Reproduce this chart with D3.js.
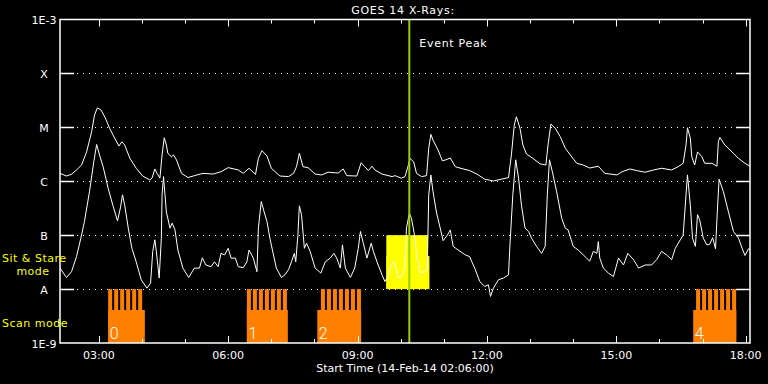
<!DOCTYPE html>
<html>
<head>
<meta charset="utf-8">
<script src="https://d3js.org/d3.v7.min.js"></script>
<style>
body { margin: 0; background: #000; }
text { font-family: "DejaVu Sans", sans-serif; fill: #fff; font-size: 11px; }
text.yel { fill: #ffff00; letter-spacing: 0.5px; }
text.ttl { letter-spacing: 0.7px; }
text.num { font-family: Roboto, "DejaVu Sans", sans-serif; font-weight: 300; font-size: 16px; }
</style>
</head>
<body>
<div id="chart"></div>
<script>
// GOES long channel (1-8 A), rows of 10
var longTimes = [
  "02:06","02:15","02:22","02:29","02:36","02:43","02:50","02:54","02:58","03:03",
  "03:09","03:15","03:22","03:28","03:32","03:36","03:43","03:52","04:01","04:11",
  "04:14","04:18","04:21","04:25","04:28","04:31","04:34","04:36","04:41","04:44",
  "04:48","04:55","05:04","05:13","05:25","05:39","05:50","06:00","06:14","06:21",
  "06:29","06:38","06:42","06:47","06:54","07:00","07:12","07:24","07:31","07:35",
  "07:39","07:44","07:51","08:01","08:10","08:19","08:33","08:40","08:45","08:59",
  "09:05","09:10","09:15","09:20","09:24","09:34","09:48","09:52","10:01","10:06",
  "10:10","10:13","10:18","10:22","10:29","10:36","10:39","10:42","10:45","10:52",
  "10:58","11:03","11:09","11:16","11:27","11:36","11:46","11:57","12:09","12:21",
  "12:30","12:34","12:38","12:41","12:46","12:50","12:55","13:04","13:14","13:22",
  "13:25","13:29","13:35","13:42","13:49","13:56","14:05","14:14","14:23","14:35",
  "14:44","15:01","15:08","15:19","15:28","15:40","15:52","16:03","16:17","16:26",
  "16:33","16:37","16:39","16:43","16:45","16:49","16:53","16:59","17:03","17:13",
  "17:20","17:22","17:24","17:31","17:41","17:50","17:59","18:06"];
var longFlux = [
  1.4e-6,1.25e-6,1.35e-6,1.62e-6,2.0e-6,3.5e-6,8.3e-6,1.69e-5,2.3e-5,2.1e-5,
  1.5e-5,9.6e-6,6.3e-6,4.5e-6,5.4e-6,4.7e-6,2.7e-6,1.74e-6,1.25e-6,1.06e-6,
  1.14e-6,1.69e-6,1.4e-6,1.14e-6,3.07e-6,6.4e-6,4.7e-6,3.3e-6,2.85e-6,3.07e-6,
  2.5e-6,1.4e-6,1.17e-6,1.27e-6,1.4e-6,1.36e-6,1.5e-6,1.79e-6,1.62e-6,1.4e-6,
  1.74e-6,1.34e-6,2.65e-6,3.7e-6,2.94e-6,1.74e-6,1.25e-6,1.22e-6,1.4e-6,1.86e-6,
  3.3e-6,1.86e-6,1.79e-6,1.36e-6,1.31e-6,1.47e-6,1.42e-6,1.69e-6,1.27e-6,1.25e-6,
  2.2e-6,1.86e-6,1.58e-6,1.9e-6,1.62e-6,1.36e-6,1.22e-6,1.27e-6,1.14e-6,1.22e-6,
  1.86e-6,2.65e-6,2.3e-6,1.4e-6,1.22e-6,1.27e-6,4.1e-6,7.4e-6,5.8e-6,3.8e-6,
  2.4e-6,2.5e-6,2.7e-6,1.86e-6,1.69e-6,1.58e-6,1.36e-6,1.09e-6,1.01e-6,1.1e-6,
  1.17e-6,3.07e-6,1.1e-5,1.57e-5,9.6e-6,4.7e-6,3.2e-6,2.65e-6,2.1e-6,2.0e-6,
  4.7e-6,1.15e-5,9.6e-6,6.7e-6,4.1e-6,3.07e-6,2.15e-6,2.0e-6,1.76e-6,1.9e-6,
  1.4e-6,1.31e-6,1.5e-6,1.69e-6,1.58e-6,1.47e-6,1.62e-6,1.74e-6,1.62e-6,1.86e-6,
  2.15e-6,4.7e-6,9.8e-6,6.3e-6,2.85e-6,2.0e-6,3.5e-6,2.85e-6,2.15e-6,2.15e-6,
  1.9e-6,5.4e-6,6.5e-6,4.7e-6,3.5e-6,2.65e-6,2.15e-6,1.9e-6];

// GOES short channel (0.5-4 A)
var shortTimes = [
  "02:06","02:15","02:22","02:29","02:35","02:40","02:47","02:53","02:57","03:01",
  "03:06","03:13","03:20","03:26","03:30","03:33","03:36","03:41","03:46","03:52",
  "03:59","04:07","04:12","04:15","04:18","04:20","04:24","04:27","04:28","04:30",
  "04:34","04:39","04:42","04:46","04:50","04:57","05:05","05:13","05:20","05:24",
  "05:29","05:36","05:41","05:46","05:50","05:55","06:00","06:04","06:10","06:14",
  "06:21","06:26","06:29","06:35","06:40","06:42","06:46","06:50","06:54","06:58",
  "07:03","07:07","07:14","07:19","07:24","07:28","07:32","07:34","07:37","07:39",
  "07:42","07:46","07:49","07:54","08:01","08:09","08:15","08:22","08:27","08:31",
  "08:36","08:39","08:43","08:50","08:56","09:01","09:04","09:08","09:13","09:19",
  "09:22","09:27","09:34","09:38","09:43","09:48","09:51","09:57","10:01","10:06",
  "10:08","10:12","10:15","10:20","10:22","10:27","10:34","10:37","10:39","10:42",
  "10:45","10:50","10:55","10:59","11:05","11:09","11:13","11:20","11:30","11:36",
  "11:39","11:43","11:50","11:57","12:02","12:05","12:09","12:16","12:23","12:30",
  "12:32","12:36","12:40","12:44","12:48","12:53","12:58","13:02","13:09","13:16",
  "13:21","13:24","13:27","13:31","13:37","13:44","13:49","13:53","14:00","14:07",
  "14:14","14:23","14:28","14:33","14:35","14:37","14:42","14:49","14:56","15:03",
  "15:10","15:16","15:24","15:31","15:40","15:49","15:56","16:03","16:10","16:17",
  "16:22","16:29","16:33","16:37","16:39","16:43","16:46","16:50","16:53","16:56",
  "17:01","17:06","17:10","17:14","17:18","17:21","17:23","17:29","17:36","17:43",
  "17:50","17:55","17:59","18:04","18:06"];
var shortFlux = [
  2.45e-8,1.64e-8,2.1e-8,4.0e-8,8.8e-8,1.79e-7,6.4e-7,2.3e-6,4.8e-6,3.07e-6,
  1.86e-6,7.4e-7,3.4e-7,1.84e-7,3.2e-7,5.6e-7,3.6e-7,1.35e-7,5.7e-8,3.2e-8,
  1.49e-8,1.04e-8,1.29e-8,5.0e-8,8.2e-8,5.0e-8,1.6e-8,8.8e-8,5.6e-7,1.22e-6,
  2.7e-7,1.35e-7,1.67e-7,1.25e-7,5.3e-8,2.45e-8,1.64e-8,2.45e-8,2.45e-8,3.8e-8,
  2.8e-8,2.6e-8,3.2e-8,2.6e-8,4.6e-8,4.3e-8,5.7e-8,3.75e-8,3.75e-8,2.6e-8,
  2.5e-8,3.2e-8,5.3e-8,3.75e-8,2.1e-8,1.35e-7,4.2e-7,2.7e-7,1.79e-7,8.8e-8,
  4.3e-8,2.45e-8,1.64e-8,1.84e-8,2.3e-8,3.2e-8,4.6e-8,3.2e-8,1.0e-7,3.5e-7,
  2.4e-7,5.7e-8,7.1e-8,5.0e-8,2.45e-8,1.98e-8,3.2e-8,3.75e-8,4.6e-8,3.75e-8,
  2.45e-8,6.6e-8,2.45e-8,1.64e-8,2.45e-8,5.7e-8,1.17e-7,7.1e-8,3.75e-8,7.1e-8,
  5.0e-8,3.2e-8,1.84e-8,1.38e-8,1.84e-8,3.0e-8,3.2e-8,1.6e-8,1.71e-8,2.45e-8,
  1.35e-7,2.55e-7,2.06e-7,8.8e-8,4.3e-8,2.03e-8,2.1e-8,2.3e-8,5.6e-7,1.31e-6,
  6.4e-7,2.55e-7,1.35e-7,7.9e-8,1.0e-7,1.25e-7,6.2e-8,5.3e-8,4.3e-8,4.0e-8,
  3.2e-8,2.45e-8,1.38e-8,1.12e-8,1.2e-8,7.3e-9,1.04e-8,1.49e-8,1.6e-8,1.84e-8,
  6.6e-8,5.6e-7,2.5e-6,1.14e-6,3.6e-7,1.35e-7,1.17e-7,8.8e-8,6.2e-8,4.6e-8,
  6.2e-8,5.6e-7,2.5e-6,1.5e-6,6.4e-7,2.06e-7,1.35e-7,1.25e-7,6.2e-8,5.3e-8,
  4.3e-8,3.3e-8,5.0e-8,4.6e-8,7.6e-8,3.75e-8,2.45e-8,1.98e-8,1.71e-8,3.75e-8,
  2.8e-8,4.6e-8,3.5e-8,2.45e-8,2.8e-8,2.8e-8,3.5e-8,5.0e-8,4.3e-8,3.5e-8,
  5.7e-8,8.2e-8,1.0e-7,5.6e-7,1.31e-6,3.6e-7,8.8e-8,6.2e-8,2.4e-7,1.92e-7,
  8.8e-8,6.6e-8,6.8e-8,9.0e-8,5.6e-8,3.6e-7,1.09e-6,6.4e-7,2.7e-7,1.17e-7,
  8.8e-8,5.7e-8,4.2e-8,5.6e-8,5.3e-8];

// y axis decades and their class letters
var levels = [1e-8, 1e-7, 1e-6, 1e-5, 1e-4];
var levelLabels = ["A", "B", "C", "M", "X"];

// scan mode observations
var scanLabels = ["0", "1", "2", "4"];
var scanStart = ["03:13", "06:26", "08:04", "16:47"];
var scanEnd = ["04:04", "07:23", "09:05", "17:47"];
var rasterStart = ["03:13", "06:26", "08:09", "16:51"];
var rasterCount = [6, 7, 7, 7];
var rasterCadence = 8.35;   // minutes
var rasterLength = 5.6;     // minutes

// sit & stare observation
var stareStart = "09:40";
var stareRasterEnd = "10:38";
var stareEnd = "10:40";

var eventPeak = "10:12";

var parse = d3.timeParse("%H:%M");
function addMin(t, m) { return new Date(+t + m * 60000); }

var plotLeft = 60, plotRight = 750, plotTop = 19.5, plotBottom = 343;

var svg = d3.select("#chart").append("svg")
    .attr("width", 768).attr("height", 384)
    .style("background", "#000");

var x = d3.scaleTime().domain([parse("02:06"), parse("18:06")]).range([plotLeft, plotRight]);
var y = d3.scaleLog().domain([1e-9, 1e-3]).range([plotBottom, plotTop]);

svg.append("clipPath").attr("id", "clip")
  .append("rect").attr("x", plotLeft).attr("y", plotTop)
  .attr("width", plotRight - plotLeft).attr("height", plotBottom - plotTop);

// dotted grid + solid ticks at both sides
levels.forEach(function(v, i) {
  var yy = Math.round(y(v)) + 0.5;
  svg.append("line").attr("x1", plotLeft + 17).attr("x2", plotRight - 14)
    .attr("y1", yy).attr("y2", yy)
    .attr("stroke", "#fff").attr("stroke-dasharray", "1,5")
    .attr("shape-rendering", "crispEdges");
  [[plotLeft, plotLeft + 14], [plotRight - 14, plotRight]].forEach(function(s) {
    svg.append("line").attr("x1", s[0]).attr("x2", s[1]).attr("y1", yy).attr("y2", yy)
      .attr("stroke", "#fff").attr("stroke-width", 1.5);
  });
  svg.append("text").attr("x", 44).attr("y", y(v) + 4.5)
    .attr("text-anchor", "middle").text(levelLabels[i]);
});
svg.append("text").attr("x", 44).attr("y", plotTop + 4.5).attr("text-anchor", "middle").text("1E-3");
svg.append("text").attr("x", 44).attr("y", plotBottom + 4.5).attr("text-anchor", "middle").text("1E-9");

// sit & stare block (yellow band between B and A)
var yA = y(1e-8), yB = y(1e-7);
svg.append("rect")
  .attr("x", x(parse(stareStart))).attr("y", yA - 33)
  .attr("width", x(parse(stareEnd)) - x(parse(stareStart))).attr("height", 33)
  .attr("fill", "#ffff00");
svg.append("rect")
  .attr("x", x(parse(stareStart))).attr("y", yB)
  .attr("width", x(parse(stareRasterEnd)) - x(parse(stareStart))).attr("height", yA - yB)
  .attr("fill", "#ffff00");

// scan blocks (orange band between A and bottom)
scanLabels.forEach(function(lab, i) {
  var s = parse(scanStart[i]), e = parse(scanEnd[i]);
  svg.append("rect")
    .attr("x", x(s)).attr("y", plotBottom - 33)
    .attr("width", x(e) - x(s)).attr("height", 33)
    .attr("fill", "#ff8000");
  d3.range(rasterCount[i]).forEach(function(k) {
    var r0 = addMin(parse(rasterStart[i]), k * rasterCadence);
    var r1 = addMin(r0, rasterLength);
    svg.append("rect")
      .attr("x", x(r0)).attr("y", yA)
      .attr("width", x(r1) - x(r0)).attr("height", plotBottom - yA)
      .attr("fill", "#ff8000");
  });
  svg.append("text").attr("class", "num")
    .attr("x", x(s) + 1.5).attr("y", 339).text(lab);
});

// GOES curves
var line = d3.line().x(function(d) { return x(d[0]); }).y(function(d) { return y(d[1]); });
var g = svg.append("g").attr("clip-path", "url(#clip)");
g.append("path")
  .attr("d", line(longTimes.map(function(t, i) { return [parse(t), longFlux[i]]; })))
  .attr("fill", "none").attr("stroke", "#fff").attr("stroke-width", 1);
g.append("path")
  .attr("d", line(shortTimes.map(function(t, i) { return [parse(t), shortFlux[i]]; })))
  .attr("fill", "none").attr("stroke", "#fff").attr("stroke-width", 1);

// event peak
var xe = x(parse(eventPeak));
svg.append("line").attr("x1", xe).attr("x2", xe).attr("y1", plotTop).attr("y2", plotBottom)
  .attr("stroke", "#99cc00").attr("stroke-width", 2);
svg.append("text").attr("class", "ttl").attr("x", xe + 10).attr("y", 47).text("Event Peak");

// frame
svg.append("rect").attr("x", plotLeft).attr("y", plotTop)
  .attr("width", plotRight - plotLeft).attr("height", plotBottom - plotTop)
  .attr("fill", "none").attr("stroke", "#fff").attr("stroke-width", 1.5);

// hour ticks top and bottom, labels every 3 hours
var hours = d3.timeHour.range(parse("03:00"), addMin(parse("18:00"), 1));
hours.forEach(function(h) {
  var major = h.getHours() % 3 === 0;
  var len = major ? 7 : 4;
  var xx = Math.round(x(h)) + 0.5;
  svg.append("line").attr("x1", xx).attr("x2", xx)
    .attr("y1", plotBottom).attr("y2", plotBottom - len).attr("stroke", "#fff");
  svg.append("line").attr("x1", xx).attr("x2", xx)
    .attr("y1", plotTop).attr("y2", plotTop + len).attr("stroke", "#fff");
  if (major) {
    svg.append("text").attr("x", x(h)).attr("y", 359)
      .attr("text-anchor", "middle").text(d3.timeFormat("%H:%M")(h));
  }
});

svg.append("text").attr("class", "ttl").attr("x", 403).attr("y", 14)
  .attr("text-anchor", "middle").text("GOES 14 X-Rays:");
svg.append("text").attr("x", 405).attr("y", 372).attr("text-anchor", "middle").text("Start Time (14-Feb-14 02:06:00)");

// mode labels
svg.append("text").attr("class", "yel").attr("x", 2).attr("y", 262).text("Sit & Stare");
svg.append("text").attr("class", "yel").attr("x", 33).attr("y", 275).attr("text-anchor", "middle").text("mode");
svg.append("text").attr("class", "yel").attr("x", 2).attr("y", 327).text("Scan mode");
</script>
</body>
</html>
